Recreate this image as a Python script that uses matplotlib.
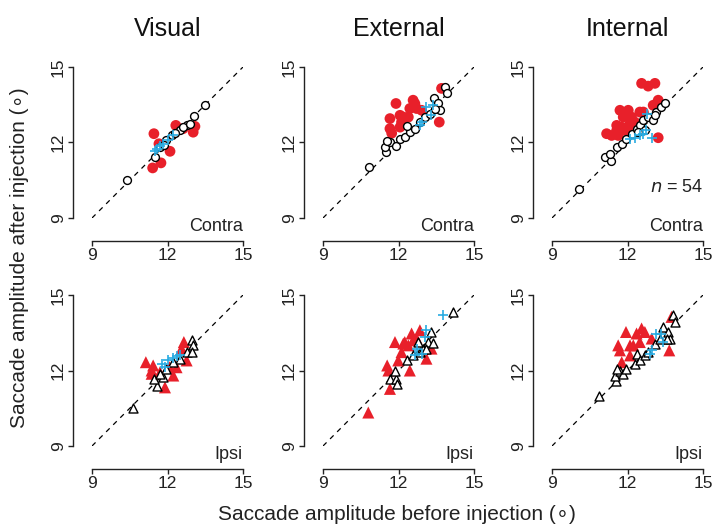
import matplotlib
matplotlib.use("Agg")
import matplotlib.pyplot as plt

plt.rcParams['font.family'] = ['Liberation Sans', 'DejaVu Sans']

titles = ["Visual", "External", "Internal"]
row_labels = ["Contra", "Ipsi"]
ticks = [9, 12, 15]

# ---- Visual / Contra ----
vc_open_x = [10.4, 13.5, 13.06, 12.76, 12.49, 12.16, 11.96, 11.7, 11.5, 12.3, 12.6, 11.85, 12.9]
vc_open_y = [10.5, 13.5, 13.04, 12.68, 12.48, 12.28, 12.08, 11.81, 11.41, 12.38, 12.6, 11.9, 12.75]
vc_red_x = [11.46, 11.41, 11.74, 12.1, 12.33, 13.09, 13.02, 11.66, 12.62]
vc_red_y = [12.35, 10.99, 11.19, 11.65, 12.68, 12.64, 12.41, 11.95, 12.55]
vc_cyan_x = [11.57, 11.83, 12.03, 12.23, 11.7, 11.5]
vc_cyan_y = [11.75, 11.95, 12.11, 12.28, 11.88, 11.68]

# ---- External / Contra ----
ec_open_x = [10.84, 11.5, 11.46, 11.66, 11.55, 11.9, 12.06, 12.25, 12.45, 12.32, 12.65, 12.85,
             13.05, 13.25, 13.4, 13.58, 13.64, 13.84, 13.91, 13.44]
ec_open_y = [11.04, 11.61, 11.81, 12.01, 12.05, 11.85, 12.15, 12.21, 12.41, 12.64, 12.55, 12.81,
             13.01, 13.15, 13.75, 13.55, 13.28, 14.19, 13.95, 13.35]
ec_red_x = [11.9, 11.66, 11.66, 11.73, 12.06, 12.12, 12.45, 12.58, 12.65, 12.39, 12.92, 12.72,
            12.06, 13.71, 13.62, 12.19]
ec_red_y = [13.55, 12.95, 12.55, 12.37, 13.08, 12.81, 13.35, 13.68, 13.55, 13.01, 13.28, 13.35,
            12.61, 14.15, 12.81, 13.01]
ec_cyan_x = [13.11, 13.38, 13.31, 12.92, 12.85]
ec_cyan_y = [13.41, 13.48, 13.08, 12.81, 12.68]

# ---- Internal / Contra ----
ic_open_x = [10.08, 11.1, 11.33, 11.3, 11.57, 11.77, 11.94, 12.16, 12.36, 12.49, 12.62, 12.82,
             13.02, 13.15, 13.35, 13.48, 13.08, 12.69, 12.42]
ic_open_y = [10.15, 11.41, 11.28, 11.55, 11.81, 11.95, 12.15, 12.35, 12.55, 12.68, 12.88, 13.01,
             12.88, 13.21, 13.41, 13.55, 13.08, 12.48, 12.41]
ic_red_x = [12.56, 12.82, 13.09, 13.22, 13.02, 11.7, 12.03, 11.83, 12.16, 12.49, 11.57, 11.77,
            12.03, 11.17, 11.37, 11.63, 11.9, 12.1, 12.29, 13.22, 12.63, 11.57]
ic_red_y = [14.35, 14.24, 14.35, 13.68, 13.48, 13.28, 13.28, 13.01, 13.01, 13.21, 12.68, 12.61,
            12.61, 12.35, 12.28, 12.28, 12.48, 12.75, 12.81, 12.19, 13.21, 12.48]
ic_cyan_x = [12.76, 12.1, 12.29, 12.49, 12.73, 12.96, 12.62]
ic_cyan_y = [13.12, 12.15, 12.19, 12.28, 12.48, 12.19, 12.35]

# ---- Visual / Ipsi ----
vi_open_x = [10.61, 11.57, 11.46, 11.83, 11.96, 12.49, 12.76, 12.96, 13.0, 12.96, 12.23, 11.7]
vi_open_y = [10.51, 11.4, 11.67, 11.73, 12.07, 12.47, 12.73, 13.2, 13.0, 12.73, 12.33, 11.87]
vi_red_x = [11.14, 11.43, 11.37, 11.7, 11.9, 12.23, 12.36, 12.65, 12.76, 12.56, 11.37, 12.08]
vi_red_y = [12.33, 12.2, 12.0, 11.93, 11.33, 11.8, 12.13, 13.13, 12.4, 12.87, 11.87, 12.13]
vi_cyan_x = [11.77, 12.03, 12.2, 12.36, 12.49, 11.9]
vi_cyan_y = [12.27, 12.4, 12.51, 12.56, 12.6, 12.13]

# ---- External / Ipsi ----
ei_open_x = [14.15, 11.66, 11.9, 11.95, 11.86, 12.32, 12.58, 12.85, 12.98, 13.18, 13.31, 13.38,
             13.1, 12.79]
ei_open_y = [14.33, 11.67, 11.67, 11.47, 12.0, 12.4, 12.6, 12.73, 12.87, 13.13, 13.53, 13.09,
             12.87, 13.13]
ei_red_x = [10.8, 11.66, 11.55, 11.6, 11.86, 12.19, 11.99, 12.12, 12.45, 12.52, 12.72, 12.85,
            12.39, 12.58, 13.11, 13.31, 12.25]
ei_red_y = [10.33, 11.27, 12.2, 12.0, 13.13, 13.07, 12.4, 12.73, 12.0, 13.47, 13.27, 13.6,
            13.0, 13.2, 12.47, 12.87, 13.13]
ei_cyan_x = [13.75, 13.11, 13.05, 12.72, 12.65, 12.92]
ei_cyan_y = [14.2, 13.6, 13.33, 12.87, 12.6, 12.64]

# ---- Internal / Ipsi ----
ii_open_x = [10.88, 11.54, 11.5, 11.7, 11.6, 11.83, 11.94, 12.29, 12.36, 12.49, 12.69, 12.82,
             13.09, 13.29, 13.42, 13.62, 13.69, 13.81, 13.88, 13.55]
ii_open_y = [11.0, 11.6, 11.8, 12.0, 12.07, 11.87, 12.07, 12.27, 12.67, 12.4, 12.6, 12.73,
             13.07, 13.27, 13.73, 13.53, 13.27, 14.2, 13.93, 13.27]
ii_red_x = [11.94, 11.63, 11.7, 11.77, 12.1, 12.23, 12.36, 12.56, 12.69, 12.49, 12.96, 13.75,
            13.66, 12.1]
ii_red_y = [13.53, 13.0, 12.8, 12.33, 12.6, 13.0, 13.47, 13.67, 13.53, 13.13, 13.27, 14.13,
            12.8, 13.0]
ii_cyan_x = [13.15, 13.42, 13.35, 12.96, 12.89]
ii_cyan_y = [13.47, 13.13, 13.47, 12.8, 12.67]

panels = [
    [(vc_open_x, vc_open_y, vc_red_x, vc_red_y, vc_cyan_x, vc_cyan_y),
     (ec_open_x, ec_open_y, ec_red_x, ec_red_y, ec_cyan_x, ec_cyan_y),
     (ic_open_x, ic_open_y, ic_red_x, ic_red_y, ic_cyan_x, ic_cyan_y)],
    [(vi_open_x, vi_open_y, vi_red_x, vi_red_y, vi_cyan_x, vi_cyan_y),
     (ei_open_x, ei_open_y, ei_red_x, ei_red_y, ei_cyan_x, ei_cyan_y),
     (ii_open_x, ii_open_y, ii_red_x, ii_red_y, ii_cyan_x, ii_cyan_y)],
]

W, H = 714, 527
fig = plt.figure(figsize=(W / 100, H / 100), dpi=100)

col_x = [92, 323, 552]
row_top = [67, 295]
size_px = 151

RED = '#e8202a'
CYAN = '#29abe2'

for r in range(2):
    for c in range(3):
        x0 = col_x[c]
        y0 = row_top[r]
        ax = fig.add_axes([x0 / W, 1 - (y0 + size_px) / H, size_px / W, size_px / H])
        ax.set_xlim(9, 15)
        ax.set_ylim(9, 15)
        ax.patch.set_alpha(0)
        for s in ['top', 'right']:
            ax.spines[s].set_visible(False)
        ax.spines['left'].set_position(('outward', 13.7))
        ax.spines['bottom'].set_position(('outward', 16.5))
        ax.spines['left'].set_bounds(9, 15)
        ax.spines['bottom'].set_bounds(9, 15)
        for s in ['left', 'bottom']:
            ax.spines[s].set_linewidth(1.0)
            ax.spines[s].set_color('#222222')
        ax.set_xticks(ticks)
        ax.set_yticks(ticks)
        ax.tick_params(direction='out', length=3.6, width=1.0, color='#222222',
                       labelsize=12.5, pad=1.5, labelcolor='#222222')
        for lab in ax.get_yticklabels():
            lab.set_rotation(90)
            lab.set_va('center')
        ax.plot([9, 15], [9, 15], ls=(0, (4, 4)), color='black', lw=0.9, zorder=1)

        ox, oy, rx, ry, cx, cy = panels[r][c]
        mk = 'o' if r == 0 else '^'
        ax.scatter(rx, ry, s=60 if r == 0 else 75, marker=mk, color=RED, edgecolors='none',
                   zorder=2, clip_on=False)
        ax.scatter(ox, oy, s=32 if r == 0 else 42, marker=mk, facecolors='white',
                   edgecolors='black', linewidths=1.0, zorder=3, clip_on=False)
        ax.scatter(cx, cy, s=55, marker='+', color=CYAN, linewidths=1.2, zorder=4, clip_on=False)

        ax.text(15, 9.0, row_labels[r], ha='right', va='top', fontsize=13, color='#222222')
        if r == 0:
            ax.set_title(titles[c], fontsize=18, pad=22, color='#111111')
        if r == 0 and c == 2:
            ax.text(15, 10.2, r'$n$ = 54', ha='right', va='center', fontsize=13, color='#222222')

fig.text(397 / W, 1 - 515 / H, 'Saccade amplitude before injection (\u2218)',
         ha='center', va='center', fontsize=15, color='#222222')
fig.text(20 / W, 1 - 258 / H, 'Saccade amplitude after injection (\u2218)',
         ha='center', va='center', rotation=90, fontsize=15, color='#222222')

fig.savefig('out.png', dpi=100)
